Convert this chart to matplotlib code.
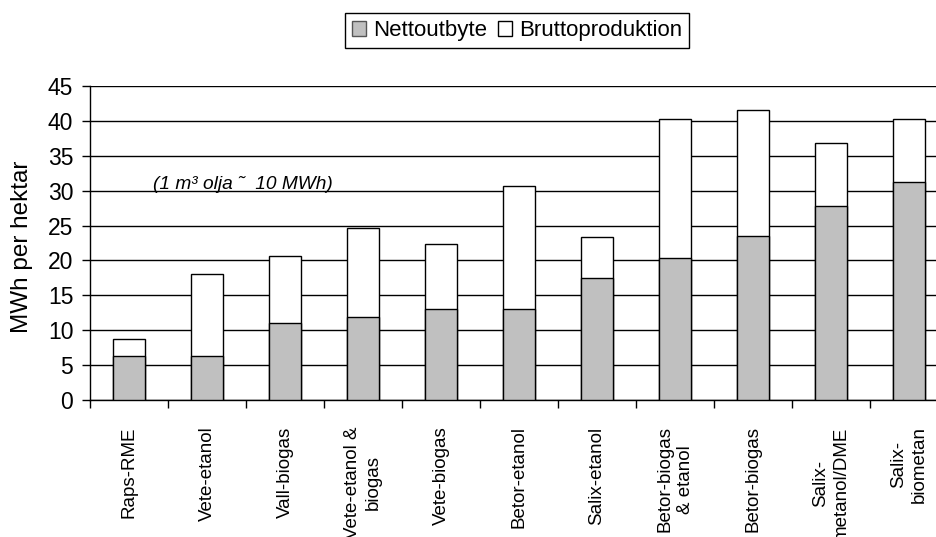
import matplotlib
matplotlib.use("Agg")
import matplotlib.pyplot as plt
import numpy as np

plt.rcParams['font.family'] = ['Liberation Sans', 'DejaVu Sans']

categories = [
    "Raps-RME", "Vete-etanol", "Vall-biogas", "Vete-etanol &\nbiogas",
    "Vete-biogas", "Betor-etanol", "Salix-etanol", "Betor-biogas\n& etanol",
    "Betor-biogas", "Salix-\nmetanol/DME", "Salix-\nbiometan",
]
netto = [6.3, 6.3, 11.0, 11.9, 13.0, 13.0, 17.5, 20.3, 23.5, 27.8, 31.3]
brutto = [8.8, 18.1, 20.7, 24.6, 22.4, 30.6, 23.3, 40.3, 41.6, 36.8, 40.3]
yticks = [0, 5, 10, 15, 20, 25, 30, 35, 40, 45]

W, H = 937, 537
fig = plt.figure(figsize=(W / 100, H / 100), dpi=100)
left_px, right_px, top_px, bottom_px = 90, 948, 86, 400
ax = fig.add_axes([left_px / W, 1 - bottom_px / H,
                   (right_px - left_px) / W, (bottom_px - top_px) / H])

x = np.arange(len(categories))
bw = 0.41
b_tot = ax.bar(x, brutto, width=bw, color="white", edgecolor="black",
               linewidth=1, zorder=3, label="Bruttoproduktion")
b_net = ax.bar(x, netto, width=bw, color="#C0C0C0", edgecolor="black",
               linewidth=1, zorder=4, label="Nettoutbyte")

ax.set_xlim(-0.5, len(categories) - 0.5)
ax.set_ylim(0, 45)
ax.set_yticks(yticks)
ax.set_yticklabels([str(v) for v in yticks], fontsize=16.5)
ax.yaxis.grid(True, color="black", linewidth=1, zorder=0)
ax.set_axisbelow(True)

ax.set_xticks(x)
ax.set_xticklabels(categories, rotation=90, fontsize=13.5,
                   ha="center", va="top", multialignment="center",
                   linespacing=1.3)
ax.set_xticks(np.arange(len(categories) + 1) - 0.5, minor=True)
ax.tick_params(axis="x", which="major", length=0, pad=19)
ax.tick_params(axis="x", which="minor", length=5.5, width=1, direction="out")
ax.tick_params(axis="y", which="major", length=6, width=1, direction="out",
               pad=6)

for s in ("top", "right"):
    ax.spines[s].set_visible(False)
for s in ("left", "bottom"):
    ax.spines[s].set_linewidth(1)
    ax.spines[s].set_color("black")

fig.text(22 / W, 1 - 247 / H, "MWh per hektar", rotation=90,
         ha="center", va="center", fontsize=17.5)

ax.text(0.31, 30.25, "(1 m³ olja ˜  10 MWh)", style="italic",
        fontsize=13.8, ha="left", va="baseline", zorder=5)

leg = fig.legend(handles=[b_net, b_tot], labels=["Nettoutbyte", "Bruttoproduktion"],
                 loc="center", bbox_to_anchor=(517 / W, 1 - 30.5 / H),
                 ncol=2, fontsize=16, frameon=True, fancybox=False,
                 edgecolor="black", framealpha=1, handlelength=0.65,
                 handleheight=0.65, handletextpad=0.3, columnspacing=0.5,
                 borderpad=0.3, borderaxespad=0)
leg.get_frame().set_linewidth(1)
for h in leg.legend_handles:
    h.set_linewidth(1)
leg.legend_handles[0].set_edgecolor("#555555")

fig.savefig("out.png", dpi=100)
